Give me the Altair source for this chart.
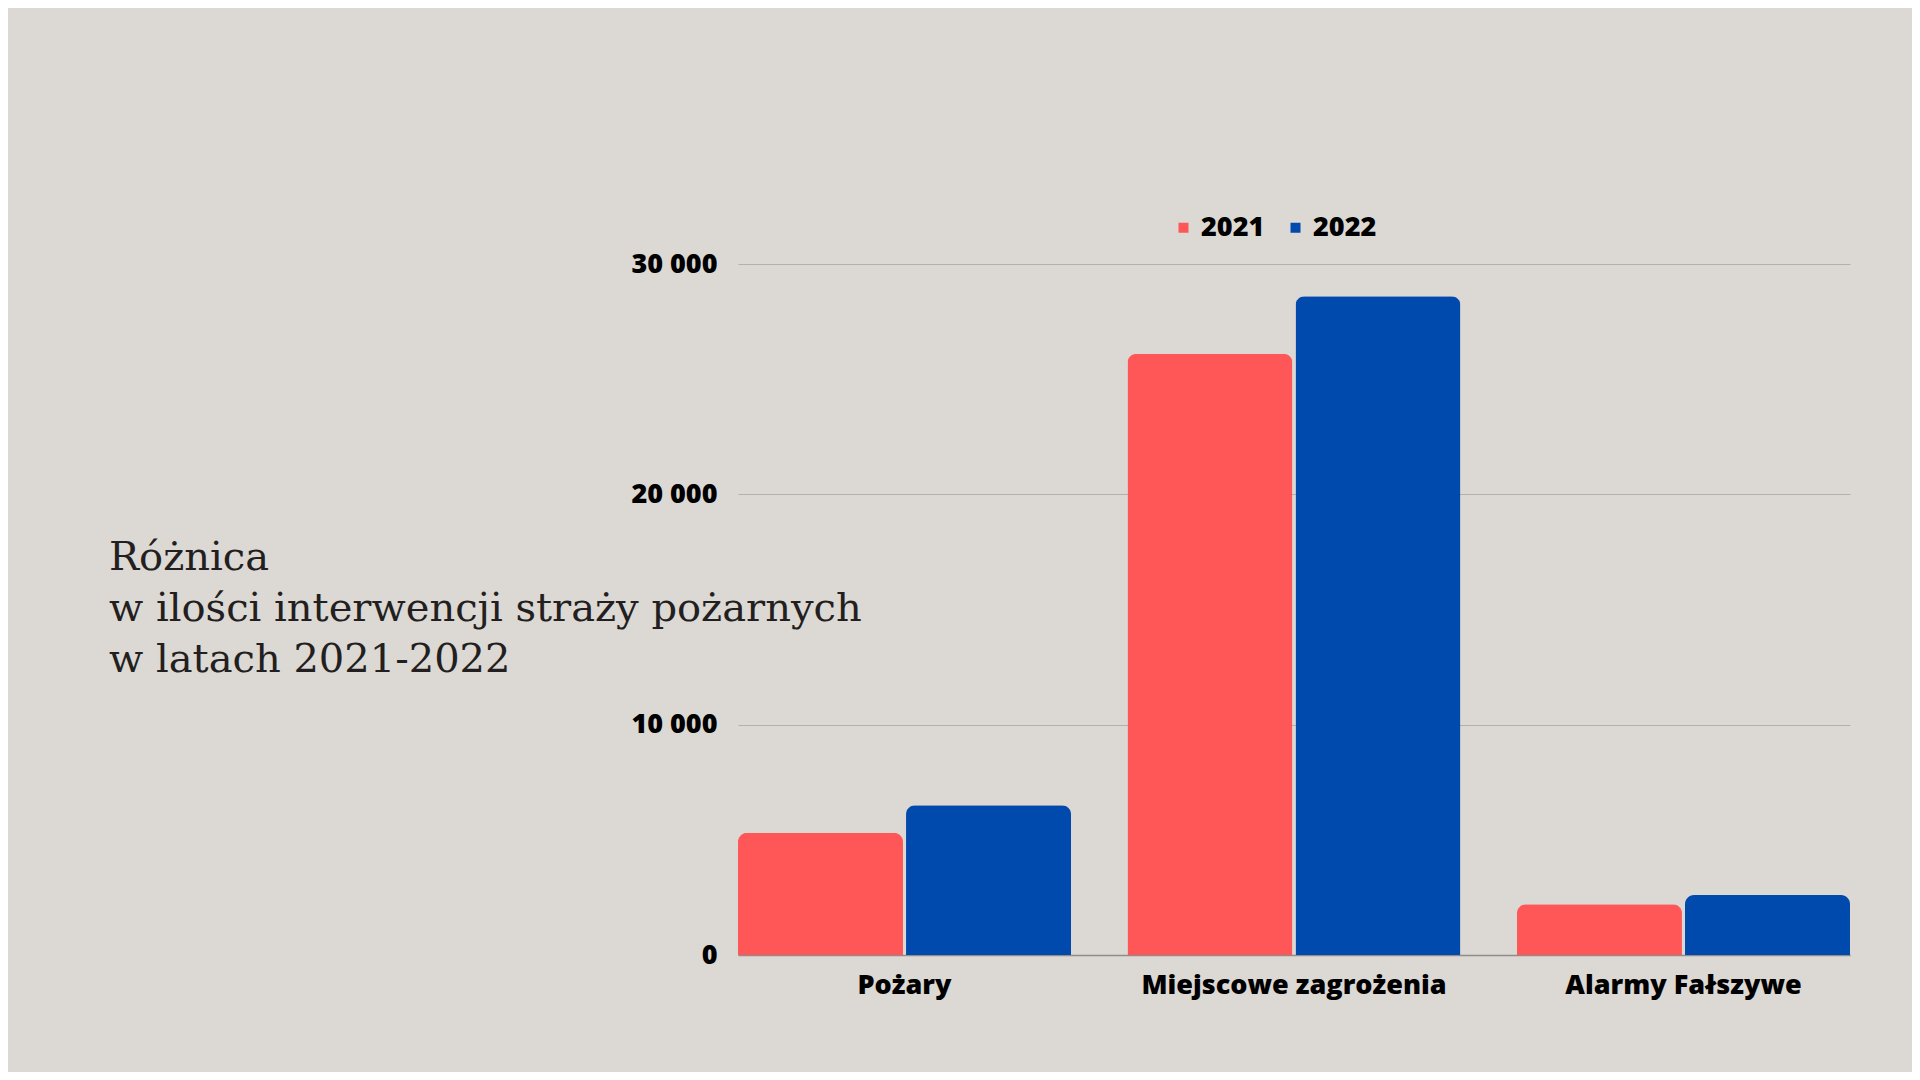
import altair as alt
import pandas as pd

categories = ["Pożary", "Miejscowe zagrożenia", "Alarmy Fałszywe"]
years = ["2021", "2022"]
values_2021 = [5300, 26100, 2200]
values_2022 = [6500, 28600, 2600]
y_ticks = [0, 10000, 20000, 30000]
title_lines = ["Różnica", "w ilości interwencji straży pożarnych", "w latach 2021-2022"]
colors = ["#FF5757", "#004AAD"]

rows = []
for c, v1, v2 in zip(categories, values_2021, values_2022):
    rows.append({"kategoria": c, "rok": "2021", "wartosc": v1})
    rows.append({"kategoria": c, "rok": "2022", "wartosc": v2})
df = pd.DataFrame(rows)

label_font = "Open Sans"
weight = 800

chart = alt.Chart(df).mark_bar(
    cornerRadiusTopLeft=9, cornerRadiusTopRight=9
).encode(
    x=alt.X("kategoria:N", sort=categories,
            scale=alt.Scale(paddingInner=0.145, paddingOuter=0),
            axis=alt.Axis(title=None, labelAngle=0, labelFontSize=27,
                          labelFont=label_font, labelFontWeight=weight,
                          labelColor="#000000", labelPadding=17, labelLimit=0,
                          ticks=False, domainColor="#8f8c89", domainWidth=1.5,
                          grid=False)),
    xOffset=alt.XOffset("rok:N", sort=years,
                        scale=alt.Scale(paddingInner=0.018, paddingOuter=0)),
    y=alt.Y("wartosc:Q", scale=alt.Scale(domain=[0, 30000], nice=False),
            axis=alt.Axis(title=None, values=y_ticks, labelFontSize=27,
                          labelFont=label_font, labelFontWeight=weight,
                          labelColor="#000000", labelPadding=21, ticks=False,
                          domain=False, gridColor="#b3b0ad", gridWidth=1,
                          labelExpr="datum.value == 0 ? '0' : format(datum.value/1000, 'd') + ' 000'")),
    color=alt.Color("rok:N", sort=years,
                    scale=alt.Scale(domain=years, range=colors),
                    legend=alt.Legend(title=None, orient="none", legendX=432, legendY=-50,
                                      direction="horizontal", symbolType="square",
                                      symbolSize=100, symbolStrokeWidth=0,
                                      labelFontSize=27, labelFont=label_font,
                                      labelFontWeight=weight, labelColor="#000000",
                                      labelOffset=4, columnPadding=17, padding=0)),
).properties(
    width=1112,
    height=691,
    title=alt.TitleParams(
        text=title_lines, font="DejaVu Serif", fontSize=40, fontWeight="normal",
        color="#231f20", anchor="start", frame="group", dx=-629, dy=498,
        baseline="alphabetic", lineHeight=51, offset=0,
    ),
    background="#dcd8d4",
    padding={"left": 730, "top": 256, "right": 62, "bottom": 117},
    autosize=alt.AutoSizeParams(type="none"),
).configure_view(stroke=None)

chart.save("out.html", embed_options={"renderer": "svg", "actions": False})
